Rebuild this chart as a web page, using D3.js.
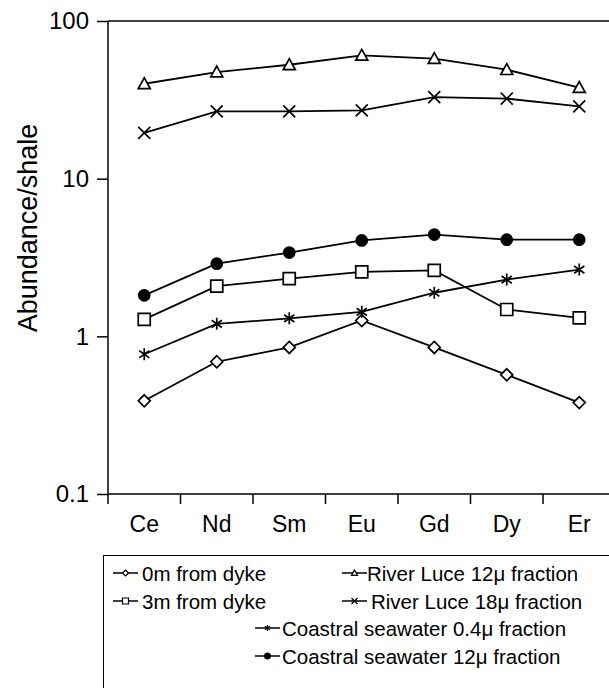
<!DOCTYPE html>
<html>
<head>
<meta charset="UTF-8">
<script src="https://d3js.org/d3.v7.min.js"></script>
<style>
  body { margin: 0; background: #fff; }
  svg { font-family: "Liberation Sans", Arial, sans-serif; }
</style>
</head>
<body>
<svg id="chart" width="609" height="688"></svg>
<script>
// data
var elements = ["Ce", "Nd", "Sm", "Eu", "Gd", "Dy", "Er"];
var yTicks = [0.1, 1, 10, 100];
var dyke0m = [0.39, 0.69, 0.85, 1.26, 0.85, 0.57, 0.38];
var dyke3m = [1.28, 2.08, 2.32, 2.56, 2.62, 1.48, 1.31];
var luce12 = [40.0, 47.4, 52.8, 60.5, 57.7, 49.1, 37.8];
var luce18 = [19.5, 26.7, 26.7, 27.1, 32.9, 32.2, 28.7];
var sea04 = [0.77, 1.20, 1.30, 1.43, 1.89, 2.29, 2.65];
var sea12 = [1.82, 2.89, 3.40, 4.06, 4.42, 4.10, 4.10];
var seriesNames = ["0m from dyke", "3m from dyke", "River Luce 12\u03bc fraction",
                   "River Luce 18\u03bc fraction", "Coastral seawater 0.4\u03bc fraction",
                   "Coastral seawater 12\u03bc fraction"];

var series = [
  {name: seriesNames[0], values: dyke0m, marker: "diamond"},
  {name: seriesNames[1], values: dyke3m, marker: "square"},
  {name: seriesNames[2], values: luce12, marker: "triangle"},
  {name: seriesNames[3], values: luce18, marker: "cross"},
  {name: seriesNames[4], values: sea04, marker: "asterisk"},
  {name: seriesNames[5], values: sea12, marker: "circle"}
];

var svg = d3.select("#chart");
var plotLeft = 108, plotTop = 21, plotBottom = 494, plotRight = 615.5;

var x = d3.scaleBand().domain(elements).range([plotLeft, plotRight]);
var y = d3.scaleLog().domain([0.1, 100]).range([plotBottom, plotTop]);

// marker shapes, r = half size
function markerPath(kind, r) {
  if (kind == "diamond") return "M0," + (-r) + "L" + r + ",0L0," + r + "L" + (-r) + ",0Z";
  if (kind == "square") return "M" + (-r) + "," + (-r) + "h" + 2 * r + "v" + 2 * r + "h" + (-2 * r) + "Z";
  if (kind == "triangle") return "M0," + (-r) + "L" + r + "," + (r * 0.8) + "L" + (-r) + "," + (r * 0.8) + "Z";
  if (kind == "cross") return "M" + (-r) + "," + (-r) + "L" + r + "," + r + "M" + (-r) + "," + r + "L" + r + "," + (-r);
  if (kind == "asterisk") return "M0," + (-r) + "V" + r + "M" + (-r * 0.85) + "," + (-r * 0.6) + "L" + (r * 0.85) + "," + (r * 0.6) +
                                 "M" + (-r * 0.85) + "," + (r * 0.6) + "L" + (r * 0.85) + "," + (-r * 0.6);
  if (kind == "circle") return d3.symbol(d3.symbolCircle, Math.PI * r * r)();
}
function markerFill(kind) {
  return kind == "circle" ? "#000" : (kind == "cross" || kind == "asterisk") ? "none" : "#fff";
}

// frame top line
svg.append("line")
  .attr("x1", plotLeft).attr("x2", plotRight).attr("y1", plotTop).attr("y2", plotTop)
  .attr("stroke", "#000").attr("stroke-width", 1.5);

// y axis
var yAxis = d3.axisLeft(y).tickValues(yTicks).tickSize(11).tickSizeOuter(0)
  .tickFormat(function(d) { return d < 1 ? "0.1" : d3.format("d")(d); });
var gy = svg.append("g").attr("transform", "translate(" + plotLeft + ",0)").call(yAxis);
gy.select(".domain").remove();
gy.selectAll("line").attr("stroke", "#000").attr("stroke-width", 1.5);
gy.selectAll("text").attr("font-size", 24).attr("fill", "#000").attr("x", -19)
  .attr("font-family", "Liberation Sans, Arial, sans-serif");
gy.append("line").attr("y1", plotTop).attr("y2", plotBottom + 10)
  .attr("stroke", "#000").attr("stroke-width", 1.5);

// x axis
var gx = svg.append("g").attr("transform", "translate(0," + plotBottom + ")");
gx.append("line").attr("x1", plotLeft).attr("x2", plotRight)
  .attr("stroke", "#000").attr("stroke-width", 1.5);
gx.selectAll(".tk").data(elements.slice(1)).join("line")
  .attr("class", "tk")
  .attr("x1", function(d) { return x(d); }).attr("x2", function(d) { return x(d); })
  .attr("y1", 0).attr("y2", 10)
  .attr("stroke", "#000").attr("stroke-width", 1.5);
gx.selectAll(".lab").data(elements).join("text")
  .attr("class", "lab")
  .attr("x", function(d) { return x(d) + x.bandwidth() / 2; })
  .attr("y", 38)
  .attr("text-anchor", "middle")
  .attr("font-size", 23)
  .text(function(d) { return d; });

// y title
svg.append("text")
  .attr("transform", "translate(37," + 228 + ") rotate(-90)")
  .attr("text-anchor", "middle")
  .attr("font-size", 27)
  .text("Abundance/shale");

// lines and markers
var line = d3.line()
  .x(function(d, i) { return x(elements[i]) + x.bandwidth() / 2; })
  .y(function(d) { return y(d); });

series.forEach(function(s) {
  var g = svg.append("g");
  g.append("path").datum(s.values)
    .attr("d", line).attr("fill", "none")
    .attr("stroke", "#000").attr("stroke-width", 1.8);
  g.selectAll("path.mk").data(s.values).join("path")
    .attr("class", "mk")
    .attr("transform", function(d, i) {
      return "translate(" + (x(elements[i]) + x.bandwidth() / 2) + "," + y(d) + ")";
    })
    .attr("d", markerPath(s.marker, s.marker == "circle" ? 5.5 : 6))
    .attr("fill", markerFill(s.marker))
    .attr("stroke", "#000").attr("stroke-width", 1.7);
});

// legend
var legendPos = [
  {lx: 113, ly: 573, tx: 142},
  {lx: 113, ly: 601, tx: 142},
  {lx: 342, ly: 573, tx: 367},
  {lx: 342, ly: 601, tx: 371},
  {lx: 255, ly: 628, tx: 282},
  {lx: 255, ly: 656, tx: 282}
];
var lg = svg.append("g");
lg.append("rect").attr("x", 103.5).attr("y", 555.5).attr("width", 520).attr("height", 150)
  .attr("fill", "none").attr("stroke", "#000").attr("stroke-width", 1);
series.forEach(function(s, i) {
  var p = legendPos[i];
  lg.append("line").attr("x1", p.lx).attr("x2", p.lx + 25).attr("y1", p.ly).attr("y2", p.ly)
    .attr("stroke", "#000").attr("stroke-width", 1.5);
  lg.append("path")
    .attr("transform", "translate(" + (p.lx + 12.5) + "," + p.ly + ")")
    .attr("d", markerPath(s.marker, 3))
    .attr("fill", markerFill(s.marker))
    .attr("stroke", "#000").attr("stroke-width", 1.2);
  lg.append("text").attr("x", p.tx).attr("y", p.ly + 8)
    .attr("font-size", 20.5)
    .text(s.name);
});
</script>
</body>
</html>
